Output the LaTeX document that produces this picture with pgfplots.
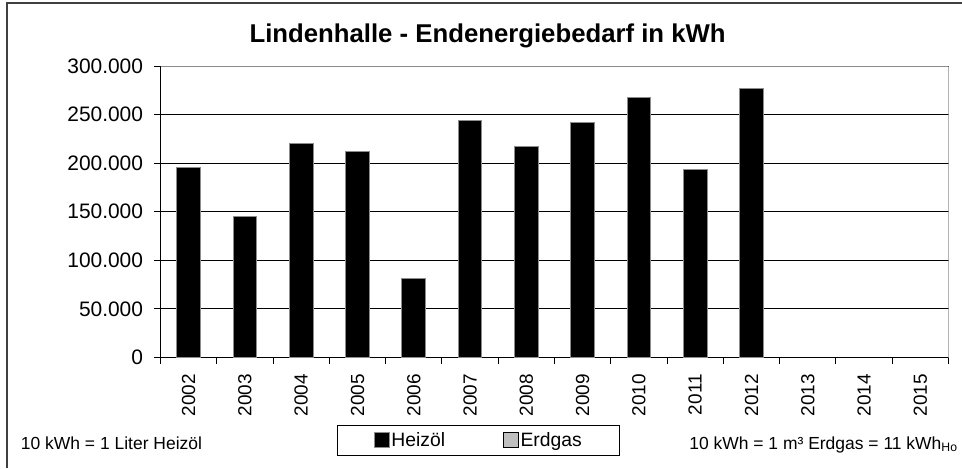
\documentclass[border=0pt]{standalone}
\usepackage{fontspec}
\setmainfont{Liberation Sans}
\usepackage{pgfplots}
\pgfplotsset{compat=1.18}
\pgfplotsset{sqlegend/.style={legend image code/.code={\draw[##1, line width=0.6pt] (0pt,-5pt) rectangle (11pt,6pt);}}}

\begin{document}
\begin{tikzpicture}
\useasboundingbox (0,0) rectangle (721.5pt,351pt);
\draw[line width=1.3pt, black!75] (5.25pt,0pt) -- (5.25pt,348.75pt) -- (721.5pt,348.75pt);
\node[font=\bfseries\fontsize{19.3}{23}\selectfont, anchor=base, inner sep=0pt] at (365.7pt,318.98pt) {Lindenhalle - Endenergiebedarf in kWh};
\node[anchor=base west, inner sep=0pt, font=\fontsize{13.1}{15}\selectfont] at (15.5pt,14.25pt) {10 kWh = 1 Liter Heizöl};
\node[anchor=base east, inner sep=0pt, font=\fontsize{13.1}{15}\selectfont] at (718.5pt,14.25pt) {10 kWh = 1 m³ Erdgas = 11 kWh\textsubscript{Ho}};

\begin{axis}[
  at={(120.375pt,82.875pt)}, anchor=south west,
  scale only axis, width=591pt, height=218.625pt,
  xmin=-0.5, xmax=13.5, ymin=0, ymax=300000,
  axis lines*=left, axis line style={-, black, line width=0.75pt},
  ytick={0,50000,...,300000},
  ymajorgrids, grid style={black, line width=0.75pt},
  tick align=outside, major tick length=5pt, tick style={black, line width=0.75pt},
  scaled y ticks=false,
  /pgf/number format/assume math mode=true,
  yticklabel style={/pgf/number format/fixed, /pgf/number format/precision=0, /pgf/number format/1000 sep={.},
    font=\fontsize{15.7}{18}\selectfont, inner xsep=0pt, xshift=-7.9pt},
  xtick={-0.5,0.5,1.5,2.5,3.5,4.5,5.5,6.5,7.5,8.5,9.5,10.5,11.5,12.5,13.5},
  xticklabels={,,,,,,,,,,,,,,},
  extra x ticks={0,1,2,3,4,5,6,7,8,9,10,11,12,13},
  extra x tick labels={2002,2003,2004,2005,2006,2007,2008,2009,2010,2011,2012,2013,2014,2015},
  extra x tick style={major tick length=0pt,
    xticklabel style={rotate=90, anchor=east, inner xsep=12.4pt, font=\fontsize{14.2}{17}\selectfont}},
  legend columns=2,
  legend style={at={(0.404,-0.2847)}, anchor=center, draw=black, line width=0.75pt,
    font=\fontsize{14.5}{17}\selectfont, inner xsep=27pt, inner ysep=3.5pt,
    nodes={inner sep=1.5pt},
    /tikz/every even column/.append style={column sep=42pt}},
  legend cell align=left,
]
\addplot[ybar, bar shift=0pt, bar width=17.7pt, fill=black, draw=black!45, line width=0.75pt, sqlegend]
  coordinates {(0,195900) (1,145100) (2,220200) (3,212300) (4,81000) (5,243500)
               (6,217000) (7,241500) (8,267500) (9,193800) (10,276400)};
\addlegendentry{Heizöl}
\addlegendimage{sqlegend, fill=black!25, draw=black}
\addlegendentry{Erdgas}
\draw[black!45, line width=0.75pt] (rel axis cs:0,1) -- (rel axis cs:1,1) -- (rel axis cs:1,0);
\end{axis}
\end{tikzpicture}
\end{document}
